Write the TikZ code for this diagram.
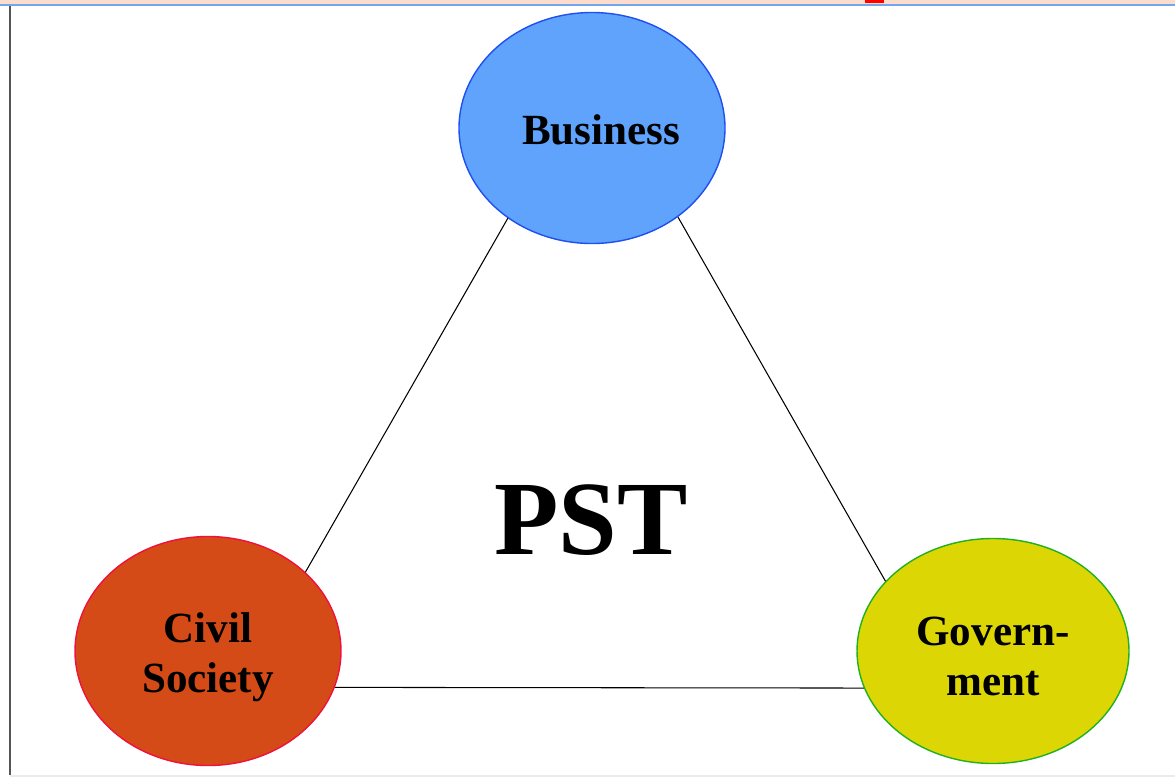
\documentclass[tikz,border=0pt]{standalone}
\usepackage{fontspec}
\setmainfont{Liberation Serif}
\usepackage{xcolor}
\usepackage{tikz}
\usetikzlibrary{
    shapes.geometric, % For the ellipse nodes
    positioning       % For relative node placement
}
\definecolor{busfill}{HTML}{5FA3FC}
\definecolor{busborder}{HTML}{1F4FEF}
\definecolor{civfill}{HTML}{D44B17}
\definecolor{civborder}{HTML}{F0103C}
\definecolor{govfill}{HTML}{DCD605}
\definecolor{govborder}{HTML}{22B022}
\definecolor{bandcolor}{HTML}{FDDCCB}
\definecolor{bluebar}{HTML}{6FA8F0}
\definecolor{framegray}{HTML}{555555}

\begin{document}
\begin{tikzpicture}

    % --- Style Definitions ---
    \tikzset{
        % The three actors of the triangle
        actor/.style={
            ellipse,
            line width=0.8pt,
            inner sep=0pt
        },
        % The text set inside each actor
        actortext/.style={
            align=center,
            inner sep=0pt,
            font=\bfseries\fontsize{24.5}{28.5}\selectfont,
            text=black
        },
        % Plain lines between the actors
        link/.style={
            line width=0.6pt,
            black
        }
    }

    % --- Canvas and window frame ---
    \useasboundingbox (0,0) rectangle (23.5,-15.58);
    \fill[bandcolor] (0,0) rectangle (23.5,-0.08);
    \fill[red] (17.3,0) rectangle (17.68,-0.06);
    \fill[bluebar] (0,-0.08) rectangle (23.5,-0.12);
    \draw[framegray, line width=0.8pt] (0.2,-0.12) -- (0.2,-15.5);
    \draw[black!8, line width=0.6pt] (0.2,-15.52) -- (23.5,-15.52);

    % --- Node Placement ---
    \node[actor, fill=busfill, draw=busborder,
          minimum width=5.32cm, minimum height=4.62cm,
          label={[actortext, xshift=0.18cm, yshift=-0.04cm]center:Business}] (bus) at (11.84,-2.56) {};

    \node[actor, fill=civfill, draw=civborder,
          minimum width=5.32cm, minimum height=4.58cm,
          label={[actortext, yshift=-0.12cm]center:Civil\\Society}] (civ) at (4.16,-13.02) {};

    \node[actor, fill=govfill, draw=govborder,
          minimum width=5.44cm, minimum height=4.5cm,
          label={[actortext, yshift=-0.1cm]center:Govern-\\ment}] (gov) at (19.86,-13.02) {};

    % The label in the middle of the triangle
    \node[font=\bfseries\fontsize{60}{66}\selectfont] (pst) at (11.82,-10.4) {PST};

    % --- Drawing Connections ---
    \draw[link] (bus.227) -- (civ.39);
    \draw[link] (bus.314) -- (gov.147);
    \draw[link] (civ.344) -- (gov.196);

\end{tikzpicture}
\end{document}
